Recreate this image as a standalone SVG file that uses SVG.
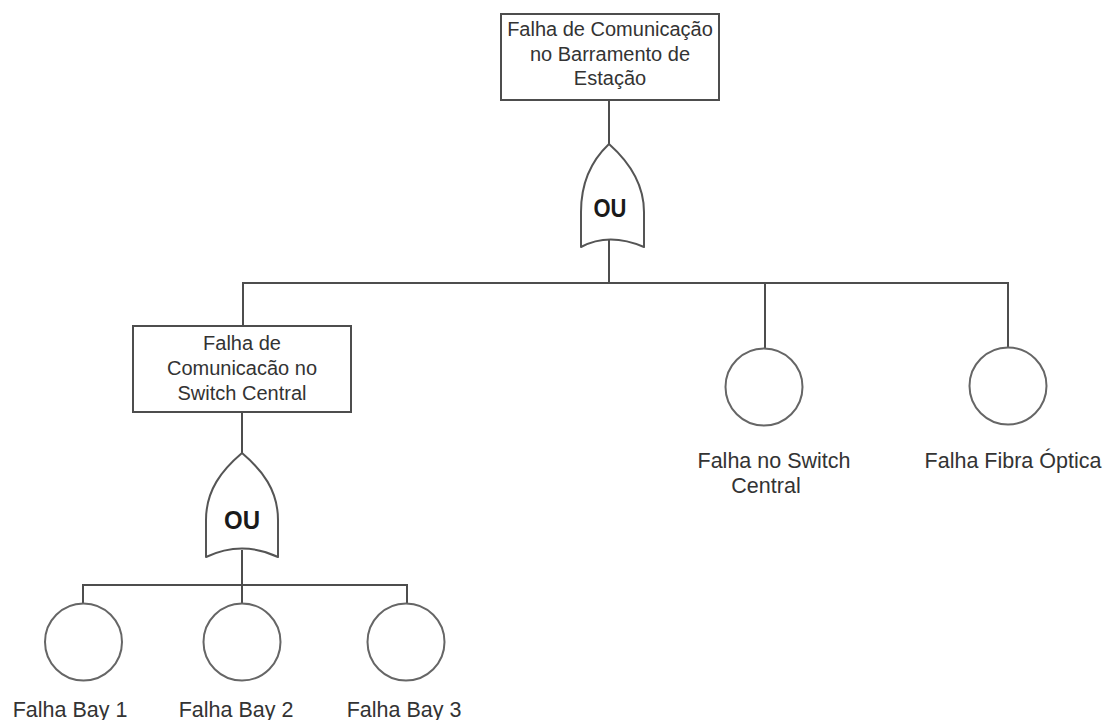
<svg xmlns="http://www.w3.org/2000/svg" width="1105" height="720" viewBox="0 0 1105 720">
  <style>
    .wire { stroke: #4d4d4d; stroke-width: 2; fill: none; }
    .box { fill: #ffffff; stroke: #4d4d4d; stroke-width: 2; }
    .gate { fill: #ffffff; stroke: #555555; stroke-width: 2; stroke-linejoin: round; }
    .basic { fill: #ffffff; stroke: #666666; stroke-width: 2; }
    .lbl { font-family: "Liberation Sans", Arial, sans-serif; font-size: 20px; fill: #333333; text-anchor: middle; }
    .leaf { font-family: "Liberation Sans", Arial, sans-serif; font-size: 21.5px; fill: #333333; text-anchor: middle; }
    .op { font-family: "Liberation Sans", Arial, sans-serif; font-size: 25px; font-weight: bold; fill: #1a1a1a; text-anchor: middle; }
  </style>
  <rect width="1105" height="720" fill="#ffffff"/>

  <!-- connectors -->
  <g id="connectors">
    <line class="wire" x1="609" y1="100" x2="609" y2="144"/>
    <line class="wire" x1="609" y1="240" x2="609" y2="283"/>
    <line class="wire" x1="243" y1="283" x2="1009" y2="283"/>
    <line class="wire" x1="243" y1="282" x2="243" y2="326"/>
    <line class="wire" x1="765" y1="282" x2="765" y2="349"/>
    <line class="wire" x1="1008" y1="282" x2="1008" y2="347"/>
    <line class="wire" x1="242" y1="412" x2="242" y2="453"/>
    <line class="wire" x1="242" y1="550" x2="242" y2="603"/>
    <line class="wire" x1="83" y1="585" x2="407" y2="585"/>
    <line class="wire" x1="83" y1="584" x2="83" y2="603"/>
    <line class="wire" x1="407" y1="584" x2="407" y2="603"/>
  </g>

  <!-- top event -->
  <g id="top-event">
    <rect class="box" x="501" y="14" width="218" height="86"/>
    <text class="lbl" x="610" y="36">Falha de Comunicação</text>
    <text class="lbl" x="610" y="60.5">no Barramento de</text>
    <text class="lbl" x="610" y="85">Estação</text>
  </g>

  <!-- OR gate under top event -->
  <g id="gate-top">
    <path class="gate" d="M609,144 C592,160 581,182 581,212 L581,247 Q609,232 644,247 L644,212 C644,182 627,160 609,144 Z"/>
    <text class="op" x="610" y="217" textLength="33" lengthAdjust="spacingAndGlyphs">OU</text>
  </g>

  <!-- intermediate event -->
  <g id="switch-central-event">
    <rect class="box" x="133" y="326" width="218" height="86"/>
    <text class="lbl" x="242" y="350">Falha de</text>
    <text class="lbl" x="242" y="375">Comunicacão no</text>
    <text class="lbl" x="242" y="400">Switch Central</text>
  </g>

  <!-- OR gate under intermediate event -->
  <g id="gate-switch">
    <path class="gate" d="M242,453 C222,470 206,490 206,520 L206,557 Q242,540 278,557 L278,520 C278,490 262,470 242,453 Z"/>
    <text class="op" x="242" y="529" textLength="36" lengthAdjust="spacingAndGlyphs">OU</text>
  </g>

  <!-- basic events -->
  <g id="switch-fault">
    <circle class="basic" cx="764" cy="387" r="38.5"/>
    <text class="leaf" x="774" y="468">Falha no Switch</text>
    <text class="leaf" x="766" y="493">Central</text>
  </g>
  <g id="fiber-fault">
    <circle class="basic" cx="1008" cy="386" r="38.5"/>
    <text class="leaf" x="1013" y="468">Falha Fibra Óptica</text>
  </g>
  <g id="bay-1">
    <circle class="basic" cx="83.5" cy="642" r="38.5"/>
    <text class="leaf" x="70" y="717">Falha Bay 1</text>
  </g>
  <g id="bay-2">
    <circle class="basic" cx="242" cy="642" r="38.5"/>
    <text class="leaf" x="236" y="717">Falha Bay 2</text>
  </g>
  <g id="bay-3">
    <circle class="basic" cx="406" cy="642" r="38.5"/>
    <text class="leaf" x="404" y="717">Falha Bay 3</text>
  </g>
</svg>
